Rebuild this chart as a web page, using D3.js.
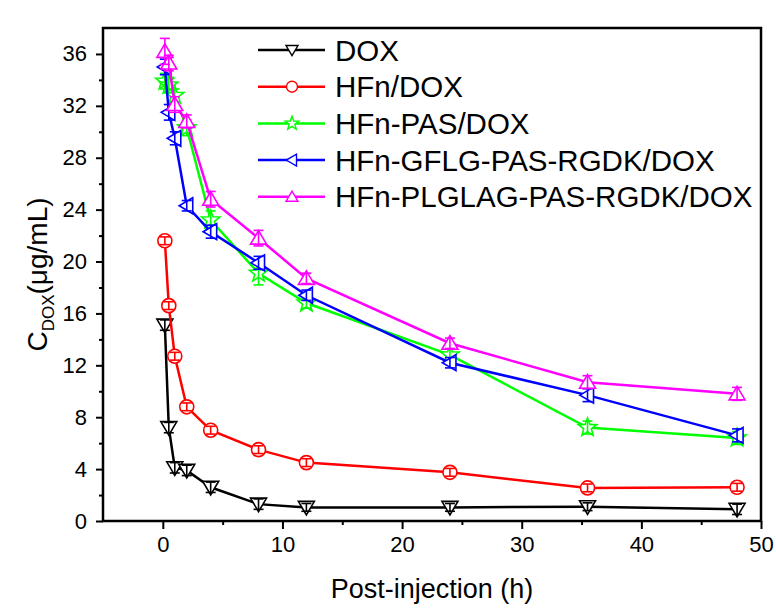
<!DOCTYPE html>
<html>
<head>
<meta charset="utf-8">
<script src="https://cdn.jsdelivr.net/npm/d3@7"></script>
<style>
body { margin: 0; background: #fff; }
text { font-family: Arial, "Liberation Sans", sans-serif; }
</style>
</head>
<body>
<script>
// sampling times (h)
const times = [0.17, 0.5, 1, 2, 4, 8, 12, 24, 35.5, 48];

const seriesNames = ["DOX", "HFn/DOX", "HFn-PAS/DOX", "HFn-GFLG-PAS-RGDK/DOX", "HFn-PLGLAG-PAS-RGDK/DOX"];
const seriesColors = ["#000000", "#ff0000", "#00ff00", "#0000ff", "#ff00ff"];
const seriesShapes = ["down", "circle", "star", "left", "up"];

const dox =      [15.1, 7.2, 4.1, 3.9, 2.6, 1.3, 1.05, 1.05, 1.1, 0.9];
const hfnDox =   [21.6, 16.6, 12.7, 8.8, 7.0, 5.5, 4.5, 3.75, 2.55, 2.6];
const pasDox =   [33.9, 33.6, 32.8, 30.3, 23.2, 19.1, 16.8, 12.8, 7.2, 6.4];
const gflgDox =  [35.0, 31.5, 29.5, 24.3, 22.3, 19.9, 17.4, 12.2, 9.7, 6.6];
const plglagDox = [36.2, 35.3, 32.1, 30.8, 24.8, 21.8, 18.7, 13.7, 10.7, 9.8];

// error bars (sd)
const doxErr =    [0.4, 0.4, 0.4, 0.4, 0.4, 0.4, 0.3, 0.3, 0.3, 0.4];
const hfnErr =    [0.3, 0.3, 0.3, 0.3, 0.3, 0.3, 0.3, 0.3, 0.3, 0.3];
const pasErr =    [0.6, 0.6, 0.5, 0.6, 0.7, 0.9, 0.4, 0.6, 0.5, 0.5];
const gflgErr =   [0.6, 0.6, 0.5, 0.4, 0.5, 0.5, 0.4, 0.4, 0.5, 0.5];
const plglagErr = [1.0, 0.6, 0.6, 0.5, 0.6, 0.6, 0.4, 0.4, 0.5, 0.5];

const seriesValues = [dox, hfnDox, pasDox, gflgDox, plglagDox];
const seriesErrors = [doxErr, hfnErr, pasErr, gflgErr, plglagErr];

const xTicks = [0, 10, 20, 30, 40, 50];
const xMinor = [5, 15, 25, 35, 45];
const yTicks = [0, 4, 8, 12, 16, 20, 24, 28, 32, 36];
const yMinor = [2, 6, 10, 14, 18, 22, 26, 30, 34];

const width = 776, height = 610;
const margin = {left: 103, right: 761, top: 28, bottom: 521};

const svg = d3.select("body").append("svg")
    .attr("width", width)
    .attr("height", height);

svg.append("rect").attr("width", width).attr("height", height).attr("fill", "#fff");

const xScale = d3.scaleLinear().domain([-5, 50]).range([margin.left, margin.right]);
const yScale = d3.scaleLinear().domain([0, 38]).range([margin.bottom, margin.top]);

// marker shapes, centred on 0,0
function shapePath(kind, s) {
    if (kind == "circle") {
        return d3.symbol().type(d3.symbolCircle).size(Math.PI * s * s)();
    }
    if (kind == "down") {
        return "M" + (-s) + "," + (-s * 0.75) + "L" + s + "," + (-s * 0.75) + "L0," + (s * 0.95) + "Z";
    }
    if (kind == "up") {
        return "M" + (-s) + "," + (s * 0.75) + "L" + s + "," + (s * 0.75) + "L0," + (-s * 0.95) + "Z";
    }
    if (kind == "left") {
        return "M" + (s * 0.75) + "," + (-s) + "L" + (s * 0.75) + "," + s + "L" + (-s * 0.95) + ",0Z";
    }
    // star
    let pts = [];
    for (let i = 0; i < 10; i++) {
        let r = i % 2 == 0 ? s * 1.2 : s * 0.5;
        let a = -Math.PI / 2 + i * Math.PI / 5;
        pts.push([r * Math.cos(a), r * Math.sin(a)]);
    }
    return "M" + pts.map(p => p[0].toFixed(2) + "," + p[1].toFixed(2)).join("L") + "Z";
}

// axes
svg.append("g")
    .attr("transform", "translate(0," + margin.bottom + ")")
    .call(d3.axisBottom(xScale).tickValues(xTicks).tickSize(8).tickSizeOuter(0).tickPadding(7));
svg.append("g")
    .attr("transform", "translate(0," + margin.bottom + ")")
    .call(d3.axisBottom(xScale).tickValues(xMinor).tickSize(4).tickSizeOuter(0).tickFormat(""));

svg.append("g")
    .attr("transform", "translate(" + margin.left + ",0)")
    .call(d3.axisLeft(yScale).tickValues(yTicks).tickSize(7).tickSizeOuter(0).tickPadding(9));
svg.append("g")
    .attr("transform", "translate(" + margin.left + ",0)")
    .call(d3.axisLeft(yScale).tickValues(yMinor).tickSize(4).tickSizeOuter(0).tickFormat(""));

svg.selectAll(".domain").remove();
svg.selectAll(".tick line").attr("stroke", "#000").attr("stroke-width", 2);
svg.selectAll(".tick text")
    .attr("fill", "#000")
    .style("font-size", "22px")
    .style("font-family", "Arial, 'Liberation Sans', sans-serif");

// frame
svg.append("rect")
    .attr("x", margin.left).attr("y", margin.top)
    .attr("width", margin.right - margin.left).attr("height", margin.bottom - margin.top)
    .attr("fill", "none").attr("stroke", "#000").attr("stroke-width", 2.5);

// series
const line = d3.line()
    .x(d => xScale(d.t))
    .y(d => yScale(d.v));

seriesValues.forEach((vals, i) => {
    const pts = vals.map((v, j) => ({t: times[j], v: v, e: seriesErrors[i][j]}));
    const g = svg.append("g");
    g.append("path")
        .datum(pts)
        .attr("d", line)
        .attr("fill", "none")
        .attr("stroke", seriesColors[i])
        .attr("stroke-width", 2.5);

    g.selectAll(".mk")
        .data(pts)
        .enter().append("path")
        .attr("transform", d => "translate(" + xScale(d.t) + "," + yScale(d.v) + ")")
        .attr("d", shapePath(seriesShapes[i], seriesShapes[i] == "circle" ? 7 : 8))
        .attr("fill", "#fff")
        .attr("stroke", seriesColors[i])
        .attr("stroke-width", 1.6);

    // error bars on top of the symbols
    const eb = g.selectAll(".eb").data(pts).enter().append("g");
    eb.append("line")
        .attr("x1", d => xScale(d.t)).attr("x2", d => xScale(d.t))
        .attr("y1", d => yScale(d.v - d.e)).attr("y2", d => yScale(d.v + d.e))
        .attr("stroke", seriesColors[i]).attr("stroke-width", 1.6);
    eb.append("line")
        .attr("x1", d => xScale(d.t) - 5).attr("x2", d => xScale(d.t) + 5)
        .attr("y1", d => yScale(d.v + d.e)).attr("y2", d => yScale(d.v + d.e))
        .attr("stroke", seriesColors[i]).attr("stroke-width", 1.6);
    eb.append("line")
        .attr("x1", d => xScale(d.t) - 5).attr("x2", d => xScale(d.t) + 5)
        .attr("y1", d => yScale(d.v - d.e)).attr("y2", d => yScale(d.v - d.e))
        .attr("stroke", seriesColors[i]).attr("stroke-width", 1.6);
});

// legend
const legend = svg.selectAll(".legend")
    .data(seriesNames)
    .enter().append("g")
    .attr("transform", (d, i) => "translate(258," + (50 + i * 36.7) + ")");

legend.append("line")
    .attr("x1", 0).attr("x2", 67)
    .attr("stroke", (d, i) => seriesColors[i])
    .attr("stroke-width", 2.5);
legend.append("path")
    .attr("transform", "translate(34,0)")
    .attr("d", (d, i) => shapePath(seriesShapes[i], seriesShapes[i] == "circle" ? 5.5 : 6))
    .attr("fill", "#fff")
    .attr("stroke", (d, i) => seriesColors[i])
    .attr("stroke-width", 1.4);
legend.append("text")
    .attr("x", 77)
    .attr("dy", "0.36em")
    .style("font-size", "29.5px")
    .text(d => d);

// axis titles
svg.append("text")
    .attr("x", (margin.left + margin.right) / 2)
    .attr("y", 598)
    .attr("text-anchor", "middle")
    .style("font-size", "27px")
    .text("Post-injection (h)");

const yTitle = svg.append("text")
    .attr("transform", "translate(47," + ((margin.top + margin.bottom) / 2) + ") rotate(-90)")
    .attr("text-anchor", "middle")
    .style("font-size", "28px");
yTitle.append("tspan").text("C");
yTitle.append("tspan").attr("dy", 7).style("font-size", "17px").text("DOX");
yTitle.append("tspan").attr("dy", -7).text("(μg/mL)");
</script>
</body>
</html>
